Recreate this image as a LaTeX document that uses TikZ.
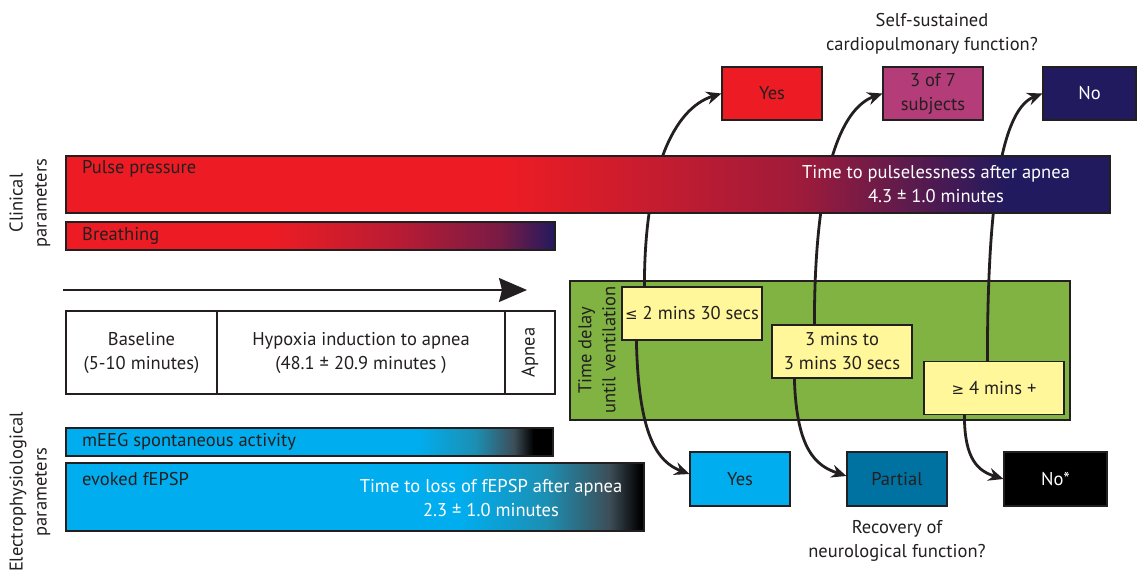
\documentclass[tikz,border=0pt]{standalone}
\usepackage{fontspec}
\setmainfont{PT Sans}
\newfontfamily\symf{DejaVu Sans}
\usetikzlibrary{arrows.meta,calc}
\definecolor{cred}{HTML}{ED1C24}
\definecolor{cblue}{HTML}{221A5E}
\definecolor{cmag}{HTML}{B43C78}
\definecolor{ccyan}{HTML}{00AEEF}
\definecolor{cteal}{HTML}{0072A2}
\definecolor{cgreen}{HTML}{80B342}
\definecolor{cyel}{HTML}{FFF799}
\definecolor{cink}{HTML}{231F20}
\definecolor{cmidA}{HTML}{1C8FB3}
\definecolor{cmidB}{HTML}{3D4E58}
\pgfdeclarehorizontalshading{pulseshade}{100bp}{color(0bp)=(cred); color(46bp)=(cred); color(60bp)=(cred!62!cblue); color(66bp)=(cred!25!cblue); color(70bp)=(cblue); color(100bp)=(cblue)}
\pgfdeclarehorizontalshading{breathshade}{100bp}{color(0bp)=(cred); color(46bp)=(cred); color(59bp)=(cred!74!cblue); color(69.4bp)=(cred!43!cblue); color(75bp)=(cblue); color(100bp)=(cblue)}
\pgfdeclarehorizontalshading{eegshade}{100bp}{color(0bp)=(ccyan); color(61bp)=(ccyan); color(67bp)=(cmidA); color(71bp)=(cmidB); color(73bp)=(black); color(100bp)=(black)}
\pgfdeclarehorizontalshading{epspshade}{100bp}{color(0bp)=(ccyan); color(59bp)=(ccyan); color(66.5bp)=(cmidA); color(72bp)=(cmidB); color(74.7bp)=(black); color(100bp)=(black)}
\pgfdeclarelayer{back}
\pgfdeclarelayer{bg}
\pgfsetlayers{back,bg,main}
\begin{document}
\begin{tikzpicture}[x=1pt,y=-1pt,
  txt/.style={font=\fontsize{18.5}{24}\selectfont, inner sep=0pt, align=center, text=cink},
  wtxt/.style={txt, text=white},
  box/.style={draw=cink, line width=1.2pt, inner sep=0pt, font=\fontsize{18.5}{24}\selectfont, align=center, text=cink},
  ybox/.style={box, fill=cyel, minimum width=140pt, minimum height=53pt},
  rbox/.style={box, minimum width=100pt, minimum height=53pt},
  bar/.style={draw=cink, line width=1.2pt, inner sep=0pt},
  conn/.style={draw=cink, line width=2.8pt, -{Stealth[length=15pt,width=13pt,inset=5pt]}},
  ]
\useasboundingbox (0,0) rectangle (1137,574);
\begin{pgfonlayer}{back}
\fill[white] (0,0) rectangle (1137,574);
\end{pgfonlayer}

\begin{pgfonlayer}{bg}
\node[draw=cink, line width=1.5pt, fill=cgreen, minimum width=500pt, minimum height=139pt, inner sep=0pt] (green) at (820,350.5) {};
\end{pgfonlayer}
\node[txt, rotate=90] (delay) at (597,350) {Time delay\\until ventilation};

% delay boxes
\node[ybox] (d1) at (692,313.5) {{\symf\fontsize{15}{20}\selectfont ≤} 2 mins 30 secs};
\node[ybox] (d2) at (842,351.5) {3 mins to\\3 mins 30 secs};
\node[ybox] (d3) at (994,388) {{\symf\fontsize{15}{20}\selectfont ≥} 4 mins +};

% cardiopulmonary outcomes
\node[txt] (ctitle) at (932,33.5) {Self-sustained\\cardiopulmonary function?};
\node[rbox, fill=cred] (cyes) at (772,93.5) {Yes};
\node[rbox, fill=cmag] (cpart) at (933,93.5) {3 of 7\\subjects};
\node[rbox, fill=cblue, text=white, minimum width=93pt] (cno) at (1089.5,93.5) {No};

% neurological outcomes
\node[rbox, fill=ccyan, minimum height=54pt] (nyes) at (740,479) {Yes};
\node[rbox, fill=cteal, minimum height=54pt] (npart) at (897,479) {Partial};
\node[rbox, fill=black, text=white, minimum width=103pt, minimum height=54pt] (nno) at (1055.5,479) {No*};
\node[txt] (ntitle) at (897,540.5) {Recovery of\\neurological function?};

% clinical bars
\node[bar, shading=pulseshade, minimum width=1044pt, minimum height=57pt] (pulse) at (588,184.5) {};
\node[txt, anchor=west] (pulsel) at (82,169) {Pulse pressure};
\node[wtxt] (pulset) at (936,184.5) {Time to pulselessness after apnea\\4.3 ± 1.0 minutes};
\node[bar, shading=breathshade, minimum width=489pt, minimum height=28pt] (breath) at (310.5,236) {};
\node[txt, anchor=west] (breathl) at (82,236) {Breathing};

% timeline
\coordinate (tstart) at (63,290);
\coordinate (tend) at (527,290);
\draw[line width=1.5pt, cink, -{Stealth[length=28pt,width=24pt,inset=3pt]}] (tstart) -- (tend);
\node[box, minimum width=151pt, minimum height=83pt] (base) at (141.5,352.5) {Baseline\\(5-10 minutes)};
\node[box, minimum width=288pt, minimum height=83pt] (hypo) at (361,352.5) {Hypoxia induction to apnea\\(48.1 ± 20.9 minutes )};
\node[box, rotate=90, minimum width=83pt, minimum height=50pt] (apnea) at (530,352.5) {Apnea};

% electrophysiological bars
\node[bar, shading=eegshade, minimum width=487pt, minimum height=28pt] (eeg) at (309.5,442) {};
\node[txt, anchor=west] (eegl) at (82,442) {mEEG spontaneous activity};
\node[bar, shading=epspshade, minimum width=578pt, minimum height=68pt] (epsp) at (355,497) {};
\node[txt, anchor=west] (epspl) at (82,479) {evoked fEPSP};
\node[wtxt] (epspt) at (491,498.5) {Time to loss of fEPSP after apnea\\2.3 ± 1.0 minutes};

% side labels
\node[txt, rotate=90] (clin) at (30,203) {Clinical\\parameters};
\node[txt, rotate=90] (elec) at (30,492) {Electrophysiological\\parameters};

% connectors
\begin{pgfonlayer}{bg}
\draw[conn] ([xshift=23pt]d1.north west) .. controls +(0,-115) and +(-48,15) .. (cyes.west);
\draw[conn] ([xshift=43pt]d2.north west) .. controls +(0,-150) and +(-42,15) .. (cpart.west);
\draw[conn] ([xshift=64pt]d3.north west) .. controls +(0,-175) and +(-38,15) .. (cno.west);
\draw[conn] ([xshift=15pt]d1.south west) .. controls +(2,95) and +(-32,-12) .. ([yshift=5pt]nyes.west);
\draw[conn] ([xshift=23pt]d2.south west) .. controls +(2,72) and +(-30,-10) .. ([yshift=3pt]npart.west);
\draw[conn] ([xshift=41pt]d3.south west) .. controls +(0,45) and +(-25,-8) .. (nno.west);
\end{pgfonlayer}
\end{tikzpicture}
\end{document}
